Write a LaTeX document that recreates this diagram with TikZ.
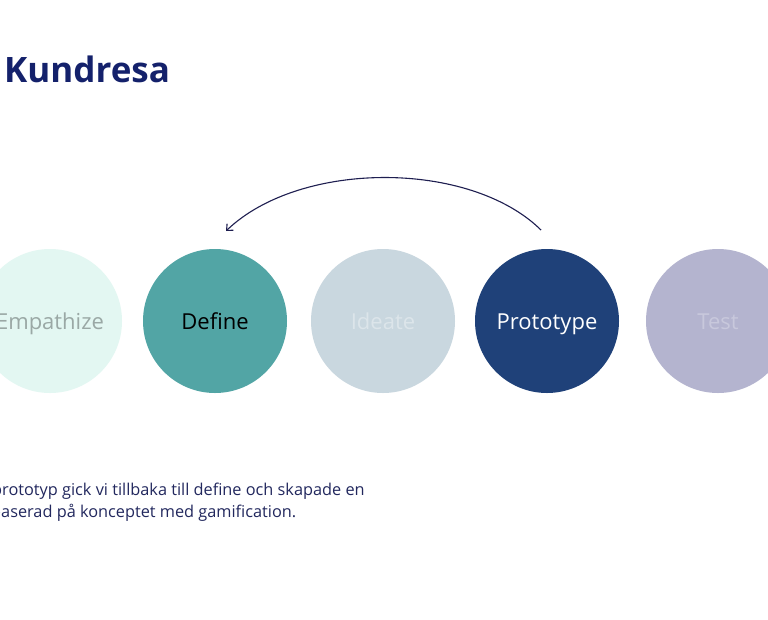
\documentclass[tikz,border=0pt]{standalone}
\usepackage{fontspec}
\setmainfont{Open Sans}
\usetikzlibrary{arrows.meta}
\definecolor{titlec}{HTML}{14216B}
\definecolor{bodyc}{HTML}{22285E}
\definecolor{arcc}{HTML}{1E1E50}
\definecolor{empf}{HTML}{E3F7F2}
\definecolor{empt}{HTML}{9AA8A5}
\definecolor{deff}{HTML}{52A5A5}
\definecolor{ideaf}{HTML}{C9D7DF}
\definecolor{ideat}{HTML}{DCE5EA}
\definecolor{protf}{HTML}{1F4179}
\definecolor{testf}{HTML}{B4B4CF}
\definecolor{testt}{HTML}{C8C8DC}
\tikzset{
  phase/.style={circle, minimum size=144pt, inner sep=0pt},
  plabel/.style={anchor=base, inner sep=0pt, font=\fontsize{22}{24}\selectfont},
  body/.style={anchor=base west, inner sep=0pt, text=bodyc, font=\fontsize{16.3}{18}\selectfont},
}
\begin{document}
\begin{tikzpicture}[x=1pt,y=-1pt]
\useasboundingbox (0,0) rectangle (768,619);
\clip (0,0) rectangle (768,619);
\fill[white] (0,0) rectangle (768,619);
\node[anchor=base west, inner sep=0pt, text=titlec, font=\fontsize{35}{40}\selectfont\bfseries] (title) at (4,82) {Kundresa};
\node[phase, fill=empf] (emp) at (50,321) {};
\node[phase, fill=deff] (def) at (215,321) {};
\node[phase, fill=ideaf] (idea) at (383,321) {};
\node[phase, fill=protf] (prot) at (547,321) {};
\node[phase, fill=testf] (test) at (718,321) {};
\node[plabel, text=empt] (empl) at (50,329) {Empathize};
\node[plabel, text=black] (defl) at (215,329) {Define};
\node[plabel, text=ideat] (ideal) at (383,329) {Ideate};
\node[plabel, text=white] (protl) at (547,329) {Prototype};
\node[plabel, text=testt] (testl) at (718,329) {Test};
\coordinate (a1) at (541,230);
\coordinate (a2) at (226,231);
\draw[arcc, line width=1.1pt, -{Straight Barb[length=5pt,width=9pt]}] (a1) .. controls (470,160) and (300,160) .. (a2);
\node[body] (l1) at (-8,495) {prototyp gick vi tillbaka till define och skapade en};
\node[body] (l2) at (-9,517) {baserad på konceptet med gamification.};
\end{tikzpicture}
\end{document}
